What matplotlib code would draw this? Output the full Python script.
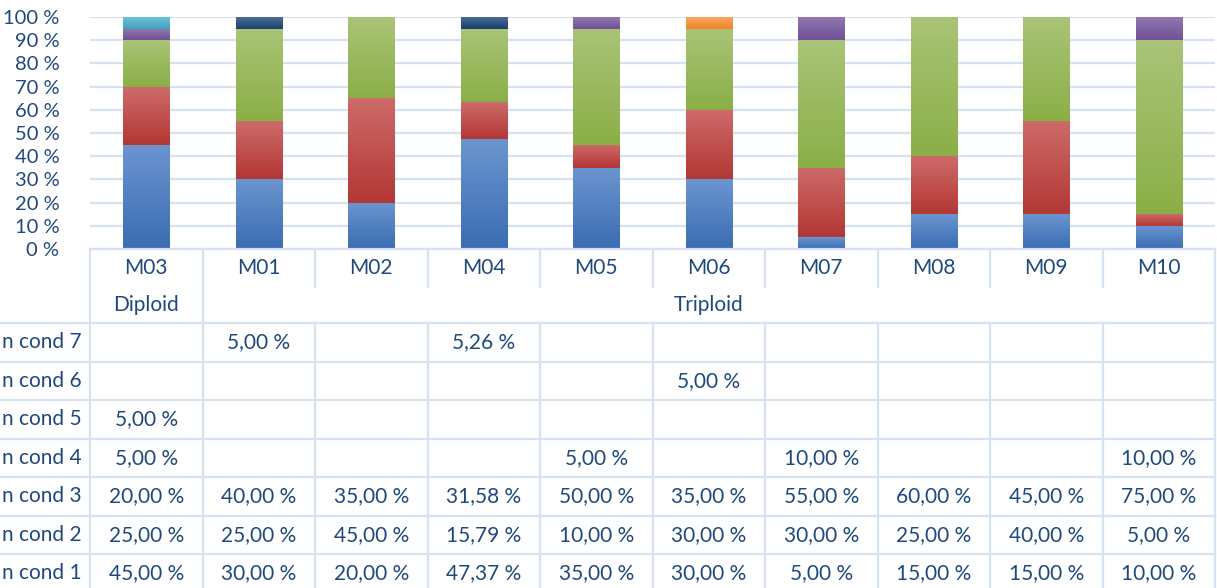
import numpy as np
import matplotlib
matplotlib.use('Agg')
import matplotlib.pyplot as plt
from matplotlib.colors import LinearSegmentedColormap
from matplotlib import transforms

plt.rcParams['font.family'] = ['Lato', 'DejaVu Sans']

samples = ['M03', 'M01', 'M02', 'M04', 'M05', 'M06', 'M07', 'M08', 'M09', 'M10']
groups = ['Diploid', 'Triploid']
group_size = [1, 9]
row_labels = ['n cond 1', 'n cond 2', 'n cond 3', 'n cond 4', 'n cond 5', 'n cond 6', 'n cond 7']

cond1 = [45.00, 30.00, 20.00, 47.37, 35.00, 30.00, 5.00, 15.00, 15.00, 10.00]
cond2 = [25.00, 25.00, 45.00, 15.79, 10.00, 30.00, 30.00, 25.00, 40.00, 5.00]
cond3 = [20.00, 40.00, 35.00, 31.58, 50.00, 35.00, 55.00, 60.00, 45.00, 75.00]
cond4 = [5.00, None, None, None, 5.00, None, 10.00, None, None, 10.00]
cond5 = [5.00, None, None, None, None, None, None, None, None, None]
cond6 = [None, None, None, None, None, 5.00, None, None, None, None]
cond7 = [None, 5.00, None, 5.26, None, None, None, None, None, None]
series = [cond1, cond2, cond3, cond4, cond5, cond6, cond7]

# (top colour, bottom colour) of the excel style gradient
colors = [('#6B95CF', '#3A6DB3'),
          ('#CD6B69', '#B33734'),
          ('#A9C477', '#8BAF47'),
          ('#9379B0', '#705096'),
          ('#6BC0D8', '#3FA2BE'),
          ('#FDA65E', '#F0832A'),
          ('#4C6D96', '#1B3F6E')]

text_col = '#1F497D'
line_col = '#D6E1F2'

W, H = 1217, 588
fig = plt.figure(figsize=(W / 100, H / 100), dpi=100)
ax = fig.add_axes([90 / W, (H - 249) / H, 1125 / W, 232 / H])
tax = fig.add_axes([90 / W, 0, 1125 / W, 339 / H])

x = np.arange(len(samples))
bottoms = np.zeros(len(samples))
grad = np.linspace(0, 1, 128).reshape(-1, 1)
for s, (top, bot) in zip(series, colors):
    vals = np.array([v if v is not None else 0 for v in s], dtype=float)
    bars = ax.bar(x, vals, bottom=bottoms, width=0.41, color=top, zorder=2, linewidth=0)
    cmap = LinearSegmentedColormap.from_list('g', [bot, top])
    for b, v in zip(bars, vals):
        if v == 0:
            continue
        im = ax.imshow(grad, extent=[b.get_x(), b.get_x() + b.get_width(),
                                     b.get_y(), b.get_y() + b.get_height()],
                       origin='lower', cmap=cmap, aspect='auto', zorder=3,
                       interpolation='bicubic')
        im.set_clip_path(b)
    bottoms += vals

ax.set_xlim(-0.5, len(samples) - 0.5)
ax.set_ylim(0, 100)
ax.set_yticks(np.arange(0, 101, 10))
ax.set_yticklabels([f'{t} %' for t in range(0, 101, 10)], fontsize=14.5, color=text_col)
ax.tick_params(axis='y', length=0, pad=22)
ax.set_xticks([])
ax.yaxis.grid(True, color=line_col, lw=1.6)
ax.set_axisbelow(True)
for sp in ax.spines.values():
    sp.set_visible(False)

# data table underneath
tax.set_xlim(-0.5, len(samples) - 0.5)
tax.set_ylim(339, 0)
tax.axis('off')
right = (90 + 1125) / W
trans = transforms.blended_transform_factory(fig.transFigure, tax.transData)
lw = 1.6

tax.plot([-0.5, len(samples) - 0.5], [0, 0], color=line_col, lw=lw, clip_on=False)
row_top = 74
row_h = 38.5
for k in range(len(series) + 1):
    y = row_top + k * row_h
    tax.plot([0, right], [y, y], transform=trans, color=line_col, lw=lw, clip_on=False)

tax.plot([-0.5, -0.5], [0, 339], color=line_col, lw=lw, clip_on=False)
tax.plot([len(samples) - 0.5] * 2, [0, 339], color=line_col, lw=lw, clip_on=False)
edges = np.cumsum(group_size)[:-1] - 0.5
for i in range(len(samples) - 1):
    xe = i + 0.5
    if xe in edges:
        tax.plot([xe, xe], [0, 339], color=line_col, lw=lw, clip_on=False)
    else:
        tax.plot([xe, xe], [0, 38], color=line_col, lw=lw, clip_on=False)
        tax.plot([xe, xe], [row_top, 339], color=line_col, lw=lw, clip_on=False)

for i, s in enumerate(samples):
    tax.text(i, 19, s, ha='center', va='center', fontsize=15, color=text_col)

start = 0
for g, n in zip(groups, group_size):
    tax.text(start + (n - 1) / 2, 56, g, ha='center', va='center', fontsize=15, color=text_col)
    start += n

for r, s in enumerate(series):
    yc = row_top + (len(series) - 1 - r) * row_h + row_h / 2
    tax.text(82 / W, yc, row_labels[r], transform=trans, ha='right', va='center',
             fontsize=15, color=text_col)
    for i, v in enumerate(s):
        if v is None:
            continue
        lab = f'{v:.2f}'.replace('.', ',') + ' %'
        tax.text(i, yc, lab, ha='center', va='center', fontsize=15, color=text_col)

fig.savefig('out.png', dpi=100)
